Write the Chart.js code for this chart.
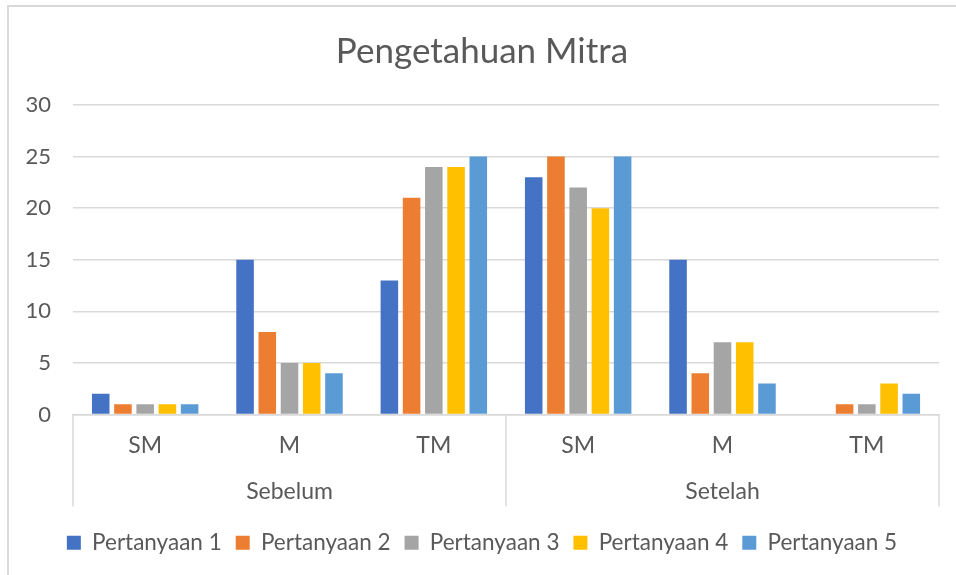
<!DOCTYPE html>
<html>
<head>
<meta charset="utf-8">
<script src="https://cdn.jsdelivr.net/npm/chart.js@4/dist/chart.umd.min.js"></script>
<style>
  html, body { margin: 0; padding: 0; background: #fff; overflow: hidden; }
  #frame { position: absolute; left: 7px; top: 5px; width: 2000px; height: 2000px; border: 2px solid #D9D9D9; box-sizing: border-box; }
  #wrap { position: absolute; left: 0; top: 0; width: 956px; height: 575px; }
</style>
</head>
<body>
<div id="frame"></div>
<div id="wrap"><canvas id="c" width="956" height="575"></canvas></div>
<script>
const chartTitle = "Pengetahuan Mitra";
const categories = ["SM", "M", "TM", "SM", "M", "TM"];
const groups = ["Sebelum", "Setelah"];
const seriesNames = ["Pertanyaan 1", "Pertanyaan 2", "Pertanyaan 3", "Pertanyaan 4", "Pertanyaan 5"];
const pertanyaan1 = [2, 15, 13, 23, 15, 0];
const pertanyaan2 = [1, 8, 21, 25, 4, 1];
const pertanyaan3 = [1, 5, 24, 22, 7, 1];
const pertanyaan4 = [1, 5, 24, 20, 7, 3];
const pertanyaan5 = [1, 4, 25, 25, 3, 2];
const seriesColors = ["#4472C4", "#ED7D31", "#A5A5A5", "#FFC000", "#5B9BD5"];
const yTicks = [0, 5, 10, 15, 20, 25, 30];

const seriesValues = [pertanyaan1, pertanyaan2, pertanyaan3, pertanyaan4, pertanyaan5];
const FONT = "Lato, 'Open Sans', sans-serif";
const TEXT = "#595959";
const GRID = "#D9D9D9";

const separators = {
  id: "separators",
  afterDraw(chart) {
    const x = chart.scales.x, x2 = chart.scales.x2;
    const ctx = chart.ctx;
    const mid = (x.getPixelForValue(2) + x.getPixelForValue(3)) / 2;
    const top = chart.chartArea.bottom;
    const bottom = x2.bottom - 11;
    ctx.save();
    ctx.strokeStyle = GRID;
    ctx.lineWidth = 1.5;
    [x.left, mid, x.right].forEach(px => {
      ctx.beginPath();
      ctx.moveTo(px, top);
      ctx.lineTo(px, bottom);
      ctx.stroke();
    });
    ctx.restore();
  }
};

new Chart(document.getElementById("c"), {
  type: "bar",
  data: {
    labels: categories,
    datasets: seriesNames.map((name, i) => ({
      label: name,
      data: seriesValues[i],
      backgroundColor: seriesColors[i],
      borderWidth: 0,
      barPercentage: 0.79,
      categoryPercentage: 0.77
    }))
  },
  options: {
    responsive: false,
    animation: false,
    layout: { padding: { left: 25, right: 17, top: 0, bottom: 11 } },
    plugins: {
      title: {
        display: true,
        text: chartTitle,
        color: TEXT,
        font: { family: FONT, size: 35, weight: "normal" },
        padding: { top: 31, bottom: 32 }
      },
      legend: {
        position: "bottom",
        labels: {
          color: TEXT,
          font: { family: FONT, size: 22.5 },
          boxWidth: 14,
          boxHeight: 14,
          padding: 14
        }
      },
      tooltip: { enabled: false }
    },
    scales: {
      x: {
        type: "category",
        position: "bottom",
        grid: { display: false, drawTicks: false },
        border: { display: true, color: GRID, width: 1.5 },
        ticks: { color: TEXT, font: { family: FONT, size: 23 }, padding: 17, maxRotation: 0 },
        afterFit: (scale) => { scale.height = 50; }
      },
      x2: {
        type: "category",
        position: "bottom",
        labels: groups,
        offset: true,
        grid: { display: false, drawTicks: false },
        border: { display: false },
        ticks: { color: TEXT, font: { family: FONT, size: 23 }, padding: 13, maxRotation: 0 },
        afterFit: (scale) => { scale.height = 53; }
      },
      y: {
        min: 0,
        max: 30,
        afterBuildTicks: (scale) => { scale.ticks = yTicks.map(v => ({ value: v })); },
        afterFit: (scale) => { scale.width = 48; },
        grid: { color: GRID, lineWidth: 1.5, drawTicks: false },
        border: { display: false },
        ticks: { color: TEXT, font: { family: FONT, size: 22 }, padding: 22, crossAlign: "near" }
      }
    }
  },
  plugins: [separators]
});
</script>
</body>
</html>
